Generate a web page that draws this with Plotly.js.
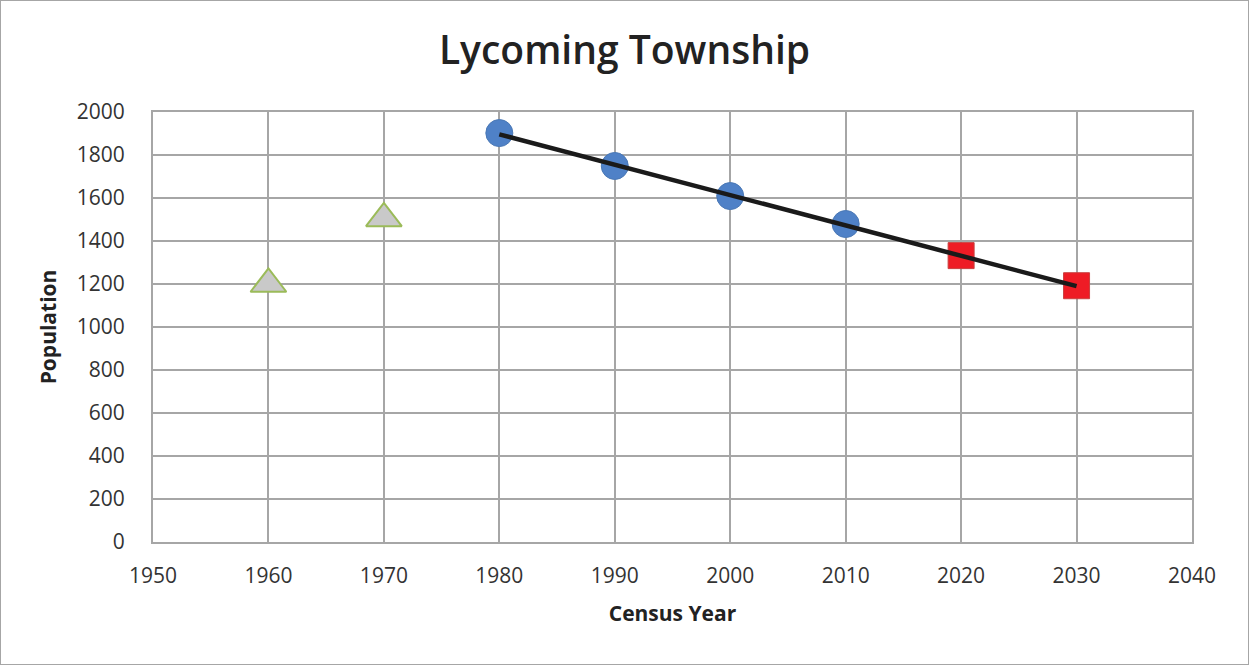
<!DOCTYPE html>
<html>
<head>
<meta charset="utf-8">
<script src="https://cdn.plot.ly/plotly-3.0.1.min.js"></script>
<style>
html,body{margin:0;padding:0;background:#fff;}
#chart{width:1247px;height:663px;border:1px solid #a6a6a6;}
</style>
</head>
<body>
<div id="chart"></div>
<script>
const historicYears = [1960, 1970];
const historicPop = [1200, 1505];
const censusYears = [1980, 1990, 2000, 2010];
const censusPop = [1902, 1749, 1609, 1479];
const projYears = [2020, 2030];
const projPop = [1332, 1192];
const trendYears = [1980, 2030];
const trendPop = [1896, 1190];
const xTicks = [1950, 1960, 1970, 1980, 1990, 2000, 2010, 2020, 2030, 2040];
const yTicks = [0, 200, 400, 600, 800, 1000, 1200, 1400, 1600, 1800, 2000];

const fontFam = '"Liberation Sans Narrow", "Open Sans", "DejaVu Sans", sans-serif';

const traces = [
  {x: historicYears, y: historicPop, type: 'scatter', mode: 'markers',
   marker: {symbol: 'triangle-up', size: 31, color: '#c9c9c9', line: {color: '#9bbb59', width: 2}}},
  {x: censusYears, y: censusPop, type: 'scatter', mode: 'markers',
   marker: {symbol: 'circle', size: 27, color: '#4f81c7', line: {color: '#4a78b5', width: 1}}},
  {x: projYears, y: projPop, type: 'scatter', mode: 'markers',
   marker: {symbol: 'square', size: 26, color: '#ee1c25', line: {color: '#c9403f', width: 1}}},
  {x: trendYears, y: trendPop, type: 'scatter', mode: 'lines',
   line: {color: '#1a1a1a', width: 4.5}}
];

const layout = {
  width: 1247, height: 663,
  margin: {l: 152, r: 56, t: 111, b: 122},
  paper_bgcolor: '#ffffff', plot_bgcolor: '#ffffff',
  showlegend: false,
  title: {text: 'Lycoming Township', x: 0.5, xanchor: 'center', y: 0.925, yanchor: 'middle',
          font: {family: fontFam, size: 39, color: '#222222', weight: 600}},
  xaxis: {
    range: [1950, 2040], tickvals: xTicks, ticktext: xTicks.map(String),
    showgrid: true, gridcolor: '#a6a6a6', gridwidth: 2,
    showline: true, linecolor: '#a6a6a6', linewidth: 2, mirror: true,
    zeroline: false,
    ticks: 'outside', ticklen: 14, tickcolor: 'rgba(0,0,0,0)',
    tickfont: {family: fontFam, size: 21, color: '#333333'},
    title: {text: 'Census Year', standoff: 18, font: {family: fontFam, size: 21, color: '#222222', weight: 'bold'}}
  },
  yaxis: {
    range: [0, 2000], tickvals: yTicks, ticktext: yTicks.map(String),
    showgrid: true, gridcolor: '#a6a6a6', gridwidth: 2,
    showline: true, linecolor: '#a6a6a6', linewidth: 2, mirror: true,
    zeroline: false,
    ticks: 'outside', ticklen: 22, tickcolor: 'rgba(0,0,0,0)',
    tickfont: {family: fontFam, size: 21, color: '#333333'},
    title: {text: 'Population', standoff: 14, font: {family: fontFam, size: 21, color: '#222222', weight: 'bold'}}
  }
};

Plotly.newPlot('chart', traces, layout, {displayModeBar: false, staticPlot: true});
</script>
</body>
</html>
